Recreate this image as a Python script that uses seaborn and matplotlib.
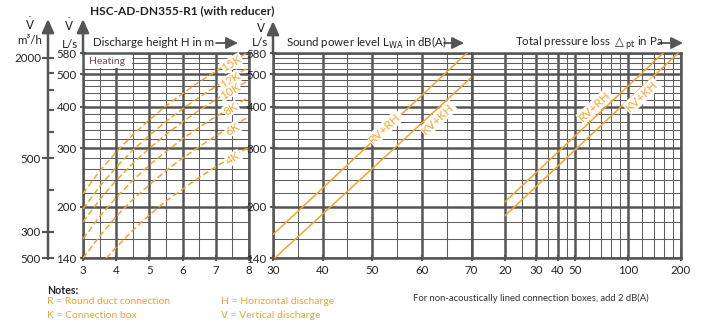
import numpy as np
import pandas as pd
import matplotlib
matplotlib.use('Agg')
import matplotlib.pyplot as plt
from matplotlib.ticker import NullFormatter, NullLocator
from matplotlib.patches import Rectangle
import seaborn as sns

sns.set_theme(style='white')
plt.rcParams['font.family'] = ['Lato', 'DejaVu Sans']
plt.rcParams['mathtext.fontset'] = 'dejavusans'

# discharge height curves (H in m -> flow in L/s)
heights = [3.0, 3.5, 4.0, 4.5, 5.0, 5.5, 6.0, 6.5, 7.0, 7.5, 8.0]
flow_15k = [219, 256, 292, 329, 365, 402, 438, 475, 511, 548, 584]
flow_12k = [197, 230, 263, 296, 328, 361, 394, 427, 460, 493, 525]
flow_10k = [180, 210, 240, 270, 300, 330, 360, 390, 420, 450, 480]
flow_8k = [160, 187, 213, 240, 267, 293, 320, 347, 373, 400, 427]
flow_6k = [140, 163, 187, 210, 233, 257, 280, 303, 327, 350, 373]
heights_4k = [3.7, 4.0, 4.5, 5.0, 5.5, 6.0, 6.5, 7.0, 7.5, 8.0]
flow_4k = [140, 151, 170, 189, 208, 226, 245, 264, 283, 302]
heat_names = ['15K', '12K', '10K', '8K', '6K', '4K']

# sound power level lines (dB(A) -> L/s)
sound_rv = [30, 69.1]
sound_rv_flow = [165, 580]
sound_kv = [30.3, 70]
sound_kv_flow = [140, 490]

# total pressure loss lines (Pa -> L/s)
press_rv = [20, 158.6]
press_rv_flow = [207, 580]
press_kv = [20, 193]
press_kv_flow = [188, 580]

flow_ticks = [140, 200, 300, 400, 500, 580]
flow_minor = [160, 180, 220, 240, 260, 280, 320, 340, 360, 380,
              420, 440, 460, 480, 520, 540, 560]
m3h_ticks = [500, 600, 1000, 2000]
m3h_labels = ['500', '300', '500', '2000']
m3h_minor = [800, 1200, 1400, 1600, 1800]
h_ticks = [3, 4, 5, 6, 7, 8]
h_minor = [3.5, 4.5, 5.5, 6.5, 7.5]
db_ticks = [30, 40, 50, 60, 70]
db_minor = [35, 45, 55, 65]
pa_ticks = [20, 30, 40, 50, 100, 200]
pa_minor = [25, 35, 45, 60, 70, 80, 90, 120, 140, 160, 180]

orange = '#F7A428'
gc = '#555555'
W, H = 706, 336
top, bot = 53, 258.3

fig = plt.figure(figsize=(7.06, 3.36), dpi=100)


def axes_at(x0, x1):
    return fig.add_axes([x0 / W, 1 - bot / H, (x1 - x0) / W, (bot - top) / H])


def ftext(px, py, s, **kw):
    fig.text(px / W, 1 - py / H, s, **kw)


def farrow(p0, p1, lw=1.8, ms=10, hl=0.8, hw=0.36):
    fig.add_artist(matplotlib.patches.FancyArrowPatch(
        (p0[0] / W, 1 - p0[1] / H), (p1[0] / W, 1 - p1[1] / H),
        transform=fig.transFigure, arrowstyle=f'-|>,head_length={hl},head_width={hw}',
        mutation_scale=ms, color=gc, lw=lw, shrinkA=0, shrinkB=0))


ax0 = axes_at(48, 49)
ax1 = axes_at(83, 249)
ax2 = axes_at(273, 471.5)
ax3 = axes_at(471.5, 681)


def style_panel(ax, xt, xm, xlim, logx=False, ylab=True):
    if logx:
        ax.set_xscale('log')
    ax.set_yscale('log')
    ax.set_xlim(*xlim)
    ax.set_ylim(140, 580)
    ax.set_xticks(xt, labels=[str(v) for v in xt])
    ax.set_xticks(xm, minor=True)
    ax.set_yticks(flow_ticks, labels=[str(v) for v in flow_ticks])
    ax.set_yticks(flow_minor, minor=True)
    ax.xaxis.set_minor_formatter(NullFormatter())
    ax.yaxis.set_minor_formatter(NullFormatter())
    ax.grid(True, which='major', color=gc, lw=1.8)
    ax.grid(True, which='minor', color='#5e5e5e', lw=0.75)
    ax.tick_params(which='major', length=5, width=1.5, direction='inout', color=gc,
                   labelsize=8.3, labelcolor='#222222', pad=2, bottom=True, left=ylab,
                   labelleft=ylab)
    ax.tick_params(which='minor', length=0)
    for sp in ax.spines.values():
        sp.set_color(gc)
        sp.set_linewidth(1.8)
    ax.set_xlabel('')
    ax.set_ylabel('')


# panel 1: discharge height
curves = pd.DataFrame({
    'H': heights * 5 + heights_4k,
    'V': flow_15k + flow_12k + flow_10k + flow_8k + flow_6k + flow_4k,
    'curve': sum([[n] * len(heights) for n in heat_names[:5]], []) + ['4K'] * len(heights_4k),
})
for name, grp in curves.groupby('curve', sort=False):
    sns.lineplot(data=grp, x='H', y='V', ax=ax1, color=orange, lw=1.1,
                 linestyle=(0, (4, 2)), zorder=3)
style_panel(ax1, h_ticks, h_minor, (3, 8))
ax1.tick_params(which='major', right=True)
heat_pos = [(7.48, 541), (7.43, 480), (7.43, 445), (7.46, 394), (7.51, 343), (7.53, 280)]
for name, (x, y) in zip(heat_names, heat_pos):
    ax1.text(x, y, name, color=orange, fontsize=8.5, rotation=31, ha='center', va='center',
             rotation_mode='anchor', zorder=4,
             bbox=dict(boxstyle='square,pad=0.05', fc='white', ec='none'))
ax1.add_patch(Rectangle((3.0, 523), 1.47, 57, fc='white', ec='none', zorder=1))
ax1.text(3.17, 548, 'Heating', fontsize=7.5, color='#6e4f52', va='center', zorder=4)

# panel 2: sound power
sns.lineplot(x=sound_rv, y=sound_rv_flow, ax=ax2, color=orange, lw=1.1, zorder=3)
sns.lineplot(x=sound_kv, y=sound_kv_flow, ax=ax2, color=orange, lw=1.1, zorder=3)
style_panel(ax2, db_ticks, db_minor, (30, 70))
for name, (x, y) in zip(['RV+RH', 'KV+KH'], [(52.6, 345), (63.3, 368)]):
    ax2.text(x, y, name, color=orange, fontsize=8.5, rotation=43, ha='center', va='center',
             rotation_mode='anchor', zorder=4,
             bbox=dict(boxstyle='square,pad=0.1', fc='white', ec='none'))

# panel 3: pressure loss
sns.lineplot(x=press_rv, y=press_rv_flow, ax=ax3, color=orange, lw=1.1, zorder=3)
sns.lineplot(x=press_kv, y=press_kv_flow, ax=ax3, color=orange, lw=1.1, zorder=3)
style_panel(ax3, pa_ticks, pa_minor, (12.9, 200), logx=True, ylab=False)
for name, (x, y) in zip(['RV+RH', 'KV+KH'], [(64.9, 401), (120, 431)]):
    ax3.text(x, y, name, color=orange, fontsize=8.5, rotation=43, ha='center', va='center',
             rotation_mode='anchor', zorder=4,
             bbox=dict(boxstyle='square,pad=0.1', fc='white', ec='none'))

# m3/h scale
ax0.set_yscale('log')
ax0.set_ylim(500, 2070)
ax0.set_yticks(m3h_ticks, labels=m3h_labels)
ax0.set_yticks(m3h_minor, minor=True)
ax0.yaxis.set_minor_formatter(NullFormatter())
ax0.xaxis.set_major_locator(NullLocator())
ax0.xaxis.set_minor_locator(NullLocator())
ax0.patch.set_alpha(0)
for sp in ax0.spines.values():
    sp.set_visible(False)
ax0.tick_params(which='major', direction='inout', length=8, width=1.5, color=gc,
                labelsize=8.3, labelcolor='#222222', pad=1, left=True)
ax0.tick_params(which='minor', direction='in', length=4, width=1.5, color=gc, left=True)

# axis arrows
farrow((48, 259), (48, 19))
farrow((83, 54), (83, 19))
farrow((273, 54), (273, 21))

vdot = r'$\dot{\mathrm{V}}$'
ftext(30, 24, vdot, fontsize=8.5, ha='center', va='center', color='#222222')
ftext(30, 40, 'm³/h', fontsize=8.3, ha='center', va='center', color='#222222')
ftext(69, 25, vdot, fontsize=8.5, ha='center', va='center', color='#222222')
ftext(70, 44, 'L/s', fontsize=8.5, ha='center', va='center', color='#222222')
ftext(261, 27, vdot, fontsize=8.5, ha='center', va='center', color='#222222')
ftext(260, 42, 'L/s', fontsize=8.5, ha='center', va='center', color='#222222')

ftext(90, 11, 'HSC-AD-DN355-R1 (with reducer)', fontsize=8.6, fontweight='bold',
      ha='left', va='center', color='#222222')
ftext(93, 43, 'Discharge height H in m', fontsize=8.3, ha='left', va='center', color='#222222')
farrow((216, 43), (238, 43), lw=1.3, ms=8, hl=0.9, hw=0.45)
ftext(286, 43, r'Sound power level L$_{\mathrm{WA}}$ in dB(A)', fontsize=8.3, ha='left',
      va='center', color='#222222')
farrow((444, 43), (464, 43), lw=1.3, ms=8, hl=0.9, hw=0.45)
ftext(515, 43, r'Total pressure loss $\triangle_{\mathrm{pt}}$ in Pa', fontsize=8.3,
      ha='left', va='center', color='#222222')
farrow((660, 43), (683, 43), lw=1.3, ms=8, hl=0.9, hw=0.45)

# notes
ftext(47, 290, 'Notes:', fontsize=7.6, fontweight='bold', ha='left', va='center', color='#222222')
ftext(47, 302, 'R = Round duct connection', fontsize=7.5, ha='left', va='center', color=orange)
ftext(47, 316, 'K = Connection box', fontsize=7.5, ha='left', va='center', color=orange)
ftext(221, 302, 'H = Horizontal discharge', fontsize=7.5, ha='left', va='center', color=orange)
ftext(221, 316, 'V = Vertical discharge', fontsize=7.5, ha='left', va='center', color=orange)
ftext(413, 298, 'For non-acoustically lined connection boxes, add 2 dB(A)', fontsize=6.8,
      ha='left', va='center', color='#333333')

fig.savefig('out.png', dpi=100)
